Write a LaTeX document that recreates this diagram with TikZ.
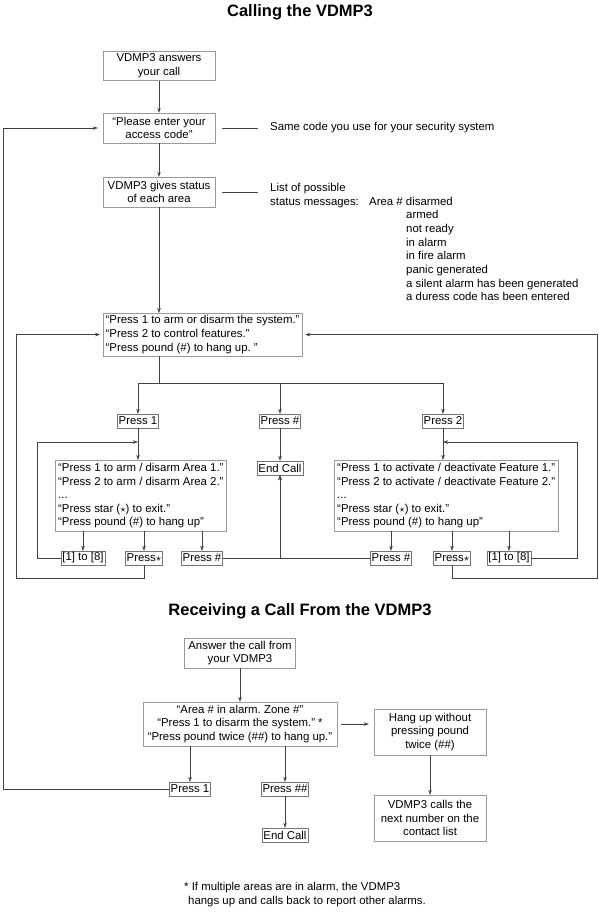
\documentclass[tikz,border=0pt]{standalone}
\usepackage{fontspec}
\setmainfont{Liberation Sans}
\usetikzlibrary{arrows.meta}
\frenchspacing

\begin{document}
\begin{tikzpicture}
	[x=1pt, y=-1pt, font=\fontsize{11.4}{13.6}\selectfont,
	 box/.style={draw=black!40, thin, inner sep=2.5pt},
	 key/.style={draw=black!55, thin, inner sep=1.2pt, minimum height=14pt},
	 line/.style={draw=black!75, thin},
	 arr/.style={line, -{Stealth[length=5pt,width=3.5pt]}},
	 title/.style={font=\fontsize{16.5}{20}\selectfont\bfseries}]

	\useasboundingbox (0,0) rectangle (599,912);

	% titles
	\node[title] (call) at (300,12) {Calling the VDMP3};
	\node[title] (recv) at (300,611) {Receiving a Call From the VDMP3};

	% calling the vdmp3
	\node[box, align=center, minimum width=112pt, minimum height=29pt] (ans) at (159,66) {VDMP3 answers\\your call};
	\node[box, align=center, minimum width=112pt, minimum height=30pt] (code) at (159,128) {“Please enter your\\access code”};
	\node[box, align=center, minimum width=112pt, minimum height=30pt] (stat) at (159,192) {VDMP3 gives status\\of each area};
	\node[box, align=left, anchor=north west] (menu) at (103,313) {“Press 1 to arm or disarm the system.”\\“Press 2 to control features.”\\“Press pound (\#) to hang up. ”};

	\node[anchor=west, inner sep=0pt] (same) at (270,128) {Same code you use for your security system};
	\node[anchor=base west, inner sep=0pt] (lst) at (270,191.5) {List of possible};
	\node[anchor=base west, inner sep=0pt] (msg) at (270,205) {status messages:};
	\node[anchor=base west, inner sep=0pt] (area) at (369,205) {Area \# disarmed};
	\foreach \s [count=\i] in {armed, not ready, in alarm, in fire alarm, panic generated,
		a silent alarm has been generated, a duress code has been entered}
		\node[anchor=base west, inner sep=0pt] (st\i) at (406,205+13.7*\i) {\s};

	\draw[arr] (ans) -- (code);
	\draw[arr] (code) -- (stat);
	\draw[arr] (stat) -- (stat |- menu.north);
	\draw[line] ([xshift=7pt]code.east) -- ([xshift=-12pt]same.west);
	\draw[line] ([xshift=7pt]stat.east) -- (258,192);

	% menu choices
	\coordinate (split) at (159,383);
	\node[key] (p1) at (138,421) {Press 1};
	\node[key] (ph) at (280,421) {Press \#};
	\node[key] (p2) at (443,421) {Press 2};
	\node[key] (end1) at (280,468) {End Call};

	\draw[line] (stat |- menu.south) -- (split);
	\draw[arr] (split) -| (p1);
	\draw[arr] (split) -| (ph);
	\draw[arr] (split) -| (p2);
	\draw[arr] (ph) -- (end1);

	% arm / disarm areas
	\node[box, align=left, anchor=north west, inner sep=3pt] (areas) at (55,460) {“Press 1 to arm / disarm Area 1.”\\“Press 2 to arm / disarm Area 2.”\\...\\“Press star ($\star$) to exit.”\\“Press pound (\#) to hang up”};
	\node[key] (k1) at (83,558) {[1] to [8]};
	\node[key] (s1) at (144,558) {Press$\star$};
	\node[key] (h1) at (202,558) {Press \#};
	\coordinate (j1) at (138,442);

	\draw[arr] (p1) -- (p1 |- areas.north);
	\foreach \n in {k1,s1,h1}
		\draw[arr] (\n |- areas.south) -- (\n);
	\draw[arr] (k1) -- (37,558) |- (j1);
	\draw[arr] (s1) |- (16,578) |- ([xshift=-3pt]menu.west);
	\draw[arr] (h1) -| (end1);

	% features
	\node[box, align=left, anchor=north west, inner sep=3pt] (feat) at (334,460) {“Press 1 to activate / deactivate Feature 1.”\\“Press 2 to activate / deactivate Feature 2.”\\...\\“Press star ($\star$) to exit.”\\“Press pound (\#) to hang up”};
	\node[key] (h2) at (391,558) {Press \#};
	\node[key] (s2) at (452,558) {Press$\star$};
	\node[key] (k2) at (509,558) {[1] to [8]};
	\coordinate (j2) at (443,442);

	\draw[arr] (p2) -- (p2 |- feat.north);
	\foreach \n in {h2,s2,k2}
		\draw[arr] (\n |- feat.south) -- (\n);
	\draw[arr] (k2) -- (577,558) |- (j2);
	\draw[arr] (s2) |- (597,578) |- ([xshift=3pt]menu.east);
	\draw[arr] (h2) -| (end1);

	% receiving a call
	\node[box, align=center, minimum width=111pt, minimum height=30pt] (ansb) at (240,653) {Answer the call from\\your VDMP3};
	\node[box, align=center, minimum width=194pt, minimum height=44pt] (alarm) at (240,724) {“Area \# in alarm. Zone \#”\\“Press 1 to disarm the system.” *\\“Press pound twice (\#\#) to hang up.”};
	\node[box, align=center, minimum width=112pt, minimum height=46pt] (hang) at (430,732) {Hang up without\\pressing pound\\twice (\#\#)};
	\node[box, align=center, minimum width=112pt, minimum height=46pt] (next) at (430,818) {VDMP3 calls the\\next number on the\\contact list};
	\node[key] (q1) at (190,789) {Press 1};
	\node[key] (q2) at (285,789) {Press \#\#};
	\node[key] (end2) at (285,835) {End Call};

	\draw[arr] (ansb) -- (alarm);
	\draw[arr] ([xshift=4pt]alarm.east) -- ([xshift=-5pt]alarm.east -| hang.west);
	\draw[arr] (hang) -- (next);
	\draw[arr] (q1 |- alarm.south) -- (q1);
	\draw[arr] (q2 |- alarm.south) -- (q2);
	\draw[arr] (q2) -- (end2);
	\draw[arr] (q1) -- (3,789) |- ([xshift=-5pt]code.west);

	% footnote
	\node[align=left, anchor=north west, inner sep=0pt] (note) at (184,882) {* If multiple areas are in alarm, the VDMP3\\\hspace{4pt}hangs up and calls back to report other alarms.};

\end{tikzpicture}
\end{document}
